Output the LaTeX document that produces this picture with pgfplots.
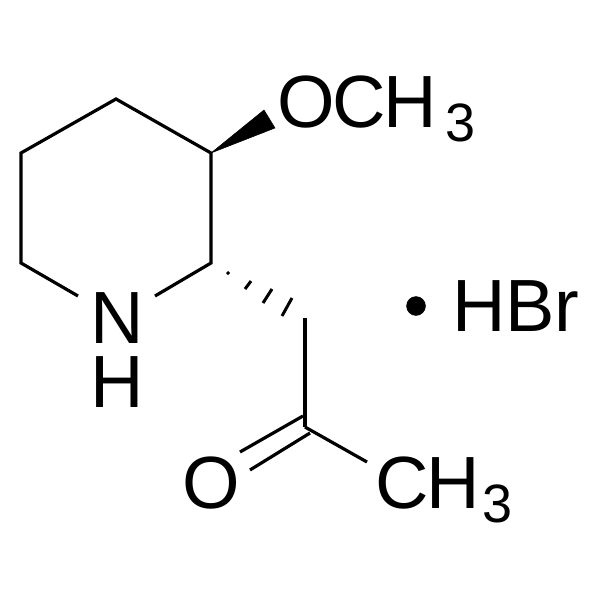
\documentclass[border=0pt]{standalone}
\usepackage{pgfplots}
\pgfplotsset{compat=1.18}
\usepackage{fontspec}
\setmainfont{Liberation Sans}
\newfontfamily\tightfont[LetterSpace=-3]{Liberation Sans}
\newcommand{\bigtxt}{\fontsize{74}{74}\selectfont}
\newcommand{\tighttxt}{\tightfont\fontsize{74}{74}\selectfont}
\newcommand{\subtxt}{\fontsize{54}{54}\selectfont}
\tikzset{
    bond/.style={black, line width=3.2pt, line join=miter},
    hash/.style={black, line width=3pt},
    lbl/.style={anchor=base west, inner sep=0pt, text=black},
}
\begin{document}
\begin{tikzpicture}
\begin{axis}[
    width=600pt, height=600pt, scale only axis,
    xmin=0, xmax=600, ymin=0, ymax=600,
    y dir=reverse, hide axis, clip=false,
]
% ring
\addplot[bond] coordinates {(78,296) (21,263) (21,153) (116,99) (211,153) (211,263) (155,296)};
% wedge to OCH3
\addplot[fill=black, draw=black, line width=0.5pt] coordinates {(211,153) (264,110) (275,128) (211,153)};
% hashed bond
\addplot[hash] coordinates {(227,272) (229,274)};
\addplot[hash] coordinates {(245,289) (251,281)};
\addplot[hash] coordinates {(263,303) (272,289)};
\addplot[hash] coordinates {(282,316) (292,298)};
% side chain
\addplot[bond] coordinates {(305,318) (305,427)};
\addplot[bond] coordinates {(303,416) (240,452)};
\addplot[bond] coordinates {(310,433) (250,470)};
\addplot[bond] coordinates {(305,427) (367,462)};
% salt dot
\addplot[only marks, mark=*, mark size=9.5pt, black] coordinates {(416,306)};
% labels
\node[lbl] at (axis cs:277,127) {\tighttxt OCH};
\node[lbl] at (axis cs:445,141) {\subtxt 3};
\node[lbl] at (axis cs:90,343) {\bigtxt N};
\node[lbl] at (axis cs:90,407) {\bigtxt H};
\node[lbl] at (axis cs:452,331) {\bigtxt HBr};
\node[lbl] at (axis cs:182,508) {\bigtxt O};
\node[lbl] at (axis cs:375,508) {\tighttxt CH};
\node[lbl] at (axis cs:482,522) {\subtxt 3};
\end{axis}
\pgfresetboundingbox
\path[use as bounding box] (current axis.south west) rectangle (current axis.north east);
\end{tikzpicture}
\end{document}
